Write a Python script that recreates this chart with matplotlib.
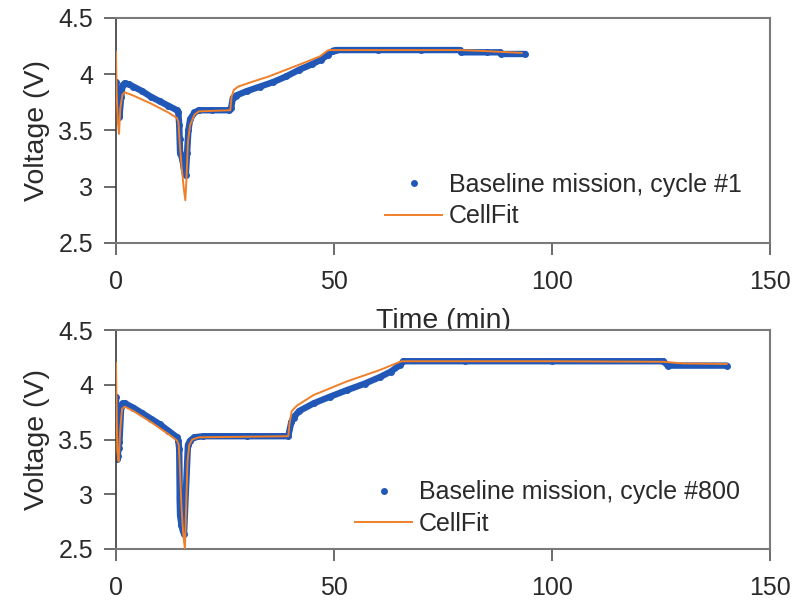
import matplotlib
matplotlib.use("Agg")
import matplotlib.pyplot as plt
import numpy as np

plt.rcParams['font.family'] = ['Liberation Sans', 'DejaVu Sans']

# ---------------- data ----------------
# Cycle #1 measured (Baseline mission)
t1_meas = [0.0, 0.05, 0.1, 0.2, 0.5, 0.8, 1.2, 1.5, 2.0, 3.0, 4.0, 6.0, 8.0, 10.0, 12.0, 14.0,
           14.3, 14.5, 14.6, 14.7, 15.2, 15.6, 16.0, 16.3, 16.6, 17.0, 18.0, 19.0, 22.0, 26.0,
           26.4, 26.8, 27.5, 30.0, 33.0, 36.0, 39.0, 42.0, 45.0, 47.0, 48.5, 49.8, 50.5, 60.0,
           70.0, 78.9, 79.2, 85.0, 88.0, 88.3, 93.8]
v1_meas = [3.93, 3.80, 3.68, 3.72, 3.70, 3.62, 3.80, 3.90, 3.92, 3.91, 3.89, 3.85, 3.80, 3.76, 3.72, 3.68,
           3.66, 3.55, 3.42, 3.30, 3.25, 3.15, 3.10, 3.30, 3.50, 3.60, 3.66, 3.68, 3.68, 3.68,
           3.70, 3.79, 3.81, 3.85, 3.89, 3.93, 3.98, 4.04, 4.09, 4.13, 4.17, 4.21, 4.215, 4.215,
           4.215, 4.215, 4.195, 4.195, 4.195, 4.18, 4.18]

# Cycle #1 CellFit model
t1_fit = [0.0, 0.15, 0.4, 0.7, 1.0, 1.5, 2.0, 4.0, 8.0, 12.0, 14.0, 14.3, 14.6, 15.0, 15.5, 15.9,
          16.2, 16.5, 17.0, 18.0, 19.0, 26.2, 26.5, 27.0, 28.0, 31.0, 35.0, 39.0, 43.0, 46.8,
          48.5, 49.0, 78.9, 85.0, 93.0]
v1_fit = [4.20, 3.85, 3.60, 3.47, 3.70, 3.82, 3.84, 3.81, 3.74, 3.66, 3.61, 3.58, 3.40, 3.20, 3.00, 2.88,
          3.10, 3.40, 3.55, 3.64, 3.67, 3.68, 3.80, 3.86, 3.89, 3.93, 3.98, 4.04, 4.10, 4.16,
          4.21, 4.215, 4.215, 4.205, 4.19]

# Cycle #800 measured (Baseline mission)
t800_meas = [0.0, 0.1, 0.2, 0.4, 0.6, 0.8, 1.2, 1.5, 2.0, 4.0, 6.0, 8.0, 10.0, 12.0, 14.0, 14.3,
             14.5, 14.6, 14.6, 14.65, 14.7, 15.0, 15.3, 15.6,
             16.5, 17.0, 18.0, 20.0, 30.0, 39.5, 40.2, 40.7, 42.0, 45.3, 49.0, 52.9, 57.0, 60.5,
             63.0, 65.1, 65.9, 80.0, 100.0, 125.5, 126.5, 140.0]
v800_meas = [3.89, 3.36, 3.32, 3.35, 3.42, 3.48, 3.80, 3.83, 3.83, 3.79, 3.74, 3.69, 3.64, 3.58, 3.52, 3.49,
             3.41, 3.04, 2.96, 2.88, 2.81, 2.72, 2.67, 2.64,
             3.45, 3.49, 3.52, 3.53, 3.53, 3.53, 3.66, 3.70, 3.76, 3.83, 3.89, 3.95, 4.01, 4.07,
             4.12, 4.18, 4.215, 4.215, 4.215, 4.215, 4.175, 4.175]

# Cycle #800 CellFit model
t800_fit = [0.0, 0.15, 0.3, 0.6, 1.0, 1.4, 2.0, 4.0, 8.0, 12.0, 14.0, 14.4, 14.7, 15.0, 15.4, 15.8,
            16.1, 16.4, 16.8, 17.5, 19.0, 39.5, 39.8, 40.3, 41.5, 45.3, 52.9, 60.5, 64.5, 65.5,
            100.0, 125.5, 130.0, 140.0]
v800_fit = [4.20, 3.80, 3.40, 3.30, 3.60, 3.78, 3.80, 3.76, 3.66, 3.55, 3.49, 3.45, 3.20, 2.90, 2.65, 2.50,
            2.90, 3.30, 3.45, 3.50, 3.52, 3.53, 3.65, 3.76, 3.81, 3.906, 4.03, 4.135, 4.20, 4.215,
            4.215, 4.21, 4.195, 4.19]

labels_meas = ["Baseline mission, cycle #1", "Baseline mission, cycle #800"]
label_fit = "CellFit"
x_ticks = [0, 50, 100, 150]
y_ticks = [2.5, 3, 3.5, 4, 4.5]
y_ticklabels = ["2.5", "3", "3.5", "4", "4.5"]

BLUE = '#2157b6'
ORANGE = '#f07f2a'
FS = 18
FS_LABEL = 20.5
TXT = '#2a2a2a'

fig = plt.figure(figsize=(7.97, 6.04), dpi=100)
ax1 = fig.add_axes([0.1455, 0.5977, 0.821, 0.3725])
ax2 = fig.add_axes([0.1455, 0.0911, 0.821, 0.3625])

panels = [
    (ax1, t1_meas, v1_meas, t1_fit, v1_fit, labels_meas[0], (0.411, 0.065)),
    (ax2, t800_meas, v800_meas, t800_fit, v800_fit, labels_meas[1], (0.365, 0.06)),
]

for ax, tm, vm, tf, vf, lab, anchor in panels:
    ax.plot(tm, vm, '-', color=BLUE, lw=4.6, solid_capstyle='round', solid_joinstyle='round',
            label='_nolegend_', zorder=2)
    ax.plot(tm, vm, 'o', color=BLUE, ms=5, mew=0, label=lab, zorder=2)
    ax.plot(tf, vf, '-', color=ORANGE, lw=1.4, label=label_fit, zorder=3)
    ax.set_xlim(0, 150)
    ax.set_ylim(2.5, 4.5)
    ax.set_xticks(x_ticks)
    ax.set_yticks(y_ticks)
    ax.set_yticklabels(y_ticklabels)
    ax.tick_params(axis='both', direction='out', length=8.5, width=1.1, color='#444444',
                   labelsize=FS, labelcolor=TXT, pad=8)
    ax.tick_params(axis='x', pad=11)
    for s in ['top', 'right', 'bottom']:
        ax.spines[s].set_color('#7a7a7a')
        ax.spines[s].set_linewidth(1.5)
    ax.spines['left'].set_color('#3a3a3a')
    ax.spines['left'].set_linewidth(1.2)
    ax.set_ylabel("Voltage (V)", fontsize=FS_LABEL, color=TXT, labelpad=6)
    leg = ax.legend(loc='lower left', bbox_to_anchor=anchor, frameon=False, fontsize=FS,
                    borderaxespad=0, borderpad=0, handlelength=2.3, handletextpad=0.25,
                    labelspacing=0.3, markerscale=1.0)
    for txt in leg.get_texts():
        txt.set_color(TXT)

ax1.set_xlabel("Time (min)", fontsize=FS_LABEL, color=TXT, labelpad=10)

fig.savefig("out.png", dpi=100)
